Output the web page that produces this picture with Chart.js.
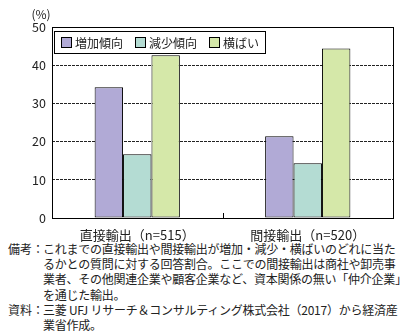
<!DOCTYPE html>
<html>
<head>
<meta charset="utf-8">
<script src="https://cdn.jsdelivr.net/npm/chart.js@4.4.0/dist/chart.umd.min.js"></script>
<style>
  body { margin: 0; background: #fff; font-family: "Noto Sans CJK JP", sans-serif; }
  #wrap { width: 416px; height: 244px; position: relative; }
  .notes { font-size: 12px; letter-spacing: -0.25px; line-height: 15.2px; color: #222; padding-left: 8px; width: 408px; margin-top: -3px; white-space: nowrap; }
  .notes .row { display: flex; }
  .notes .head { flex: none; width: 35px; letter-spacing: 0; }
  .notes .body { flex: 1; }
</style>
</head>
<body>
<div id="wrap"><canvas id="chart" width="416" height="244"></canvas></div>
<div class="notes">
  <div class="row"><span class="head">備考：</span><span class="body">これまでの直接輸出や間接輸出が増加・減少・横ばいのどれに当た<br>るかとの質問に対する回答割合。ここでの間接輸出は商社や卸売事<br>業者、その他関連企業や顧客企業など、資本関係の無い「仲介企業」<br>を通じた輸出。</span></div>
  <div class="row"><span class="head">資料：</span><span class="body">三菱 UFJ リサーチ＆コンサルティング株式会社（2017）から経済産<br>業省作成。</span></div>
</div>
<script>
// categories and series (%)
const categories = ['直接輸出（n=515）', '間接輸出（n=520）'];
const increase = [34.2, 21.4];
const decrease = [16.7, 14.3];
const flat = [42.6, 44.4];
const seriesNames = ['増加傾向', '減少傾向', '横ばい'];
const yTicks = [0, 10, 20, 30, 40, 50];

const colors = ['#b1aad6', '#b4dcd3', '#d5e8a9'];
const FONT = '"Noto Sans CJK JP", sans-serif';

// legend box inside the plot, with a frame
const boxLegend = {
  id: 'boxLegend',
  afterDraw(chart) {
    const ctx = chart.ctx;
    const area = chart.chartArea;
    ctx.save();
    ctx.font = '12px ' + FONT;
    ctx.textBaseline = 'middle';
    const x0 = area.left + 2, y0 = area.top + 4, h = 22;
    let x = x0 + 7;
    const items = chart.data.datasets.map(ds => {
      const w = ctx.measureText(ds.label).width;
      const it = { x, label: ds.label, color: ds.backgroundColor, w };
      x += 11 + 4 + w + 11;
      return it;
    });
    const boxW = x - x0 - 6;
    ctx.fillStyle = '#fff';
    ctx.fillRect(x0, y0, boxW, h);
    ctx.strokeStyle = '#000';
    ctx.lineWidth = 1;
    ctx.setLineDash([]);
    ctx.strokeRect(x0 + 0.5, y0 + 0.5, boxW, h);
    items.forEach(it => {
      ctx.fillStyle = it.color;
      ctx.fillRect(it.x + 0.5, y0 + 6.5, 10, 10);
      ctx.strokeStyle = '#000';
      ctx.strokeRect(it.x + 0.5, y0 + 6.5, 10, 10);
      ctx.fillStyle = '#222';
      ctx.fillText(it.label, it.x + 14, y0 + h / 2 + 1);
    });
    // unit label
    ctx.textAlign = 'center';
    ctx.fillText('(%)', 41, 14);
    // small tick between categories at the bottom
    const xs = chart.scales.x;
    const mid = (xs.getPixelForTick(0) + xs.getPixelForTick(1)) / 2;
    ctx.beginPath();
    ctx.moveTo(Math.round(mid) + 0.5, area.bottom);
    ctx.lineTo(Math.round(mid) + 0.5, area.bottom - 5);
    ctx.stroke();
    // frame
    ctx.strokeRect(area.left + 0.5, area.top + 0.5, area.right - area.left, area.bottom - area.top);
    ctx.restore();
  }
};

new Chart(document.getElementById('chart'), {
  type: 'bar',
  data: {
    labels: categories,
    datasets: [
      { label: seriesNames[0], data: increase, backgroundColor: colors[0] },
      { label: seriesNames[1], data: decrease, backgroundColor: colors[1] },
      { label: seriesNames[2], data: flat, backgroundColor: colors[2] }
    ].map(d => Object.assign(d, { borderColor: '#000', borderWidth: 1, borderSkipped: false }))
  },
  options: {
    responsive: false,
    animation: false,
    layout: { padding: { left: 0, right: 23, top: 27, bottom: 0 } },
    datasets: { bar: { categoryPercentage: 0.5, barPercentage: 1 } },
    plugins: { legend: { display: false }, tooltip: { enabled: false } },
    scales: {
      x: {
        grid: { display: false },
        border: { display: false },
        ticks: { color: '#222', font: { family: FONT, size: 13 }, padding: 1 },
        afterFit: s => { s.height = 26; }
      },
      y: {
        min: 0, max: 50,
        afterBuildTicks: s => { s.ticks = yTicks.map(v => ({ value: v })); },
        afterFit: s => { s.width = 52; },
        border: { display: false, dash: [3, 1] },
        grid: {
          color: ctx => (ctx.tick && (ctx.tick.value === 0 || ctx.tick.value === 50)) ? 'rgba(0,0,0,0)' : '#222',
          drawTicks: false
        },
        ticks: { color: '#222', font: { family: FONT, size: 12.5 }, padding: 6 }
      }
    }
  },
  plugins: [boxLegend]
});
</script>
</body>
</html>
